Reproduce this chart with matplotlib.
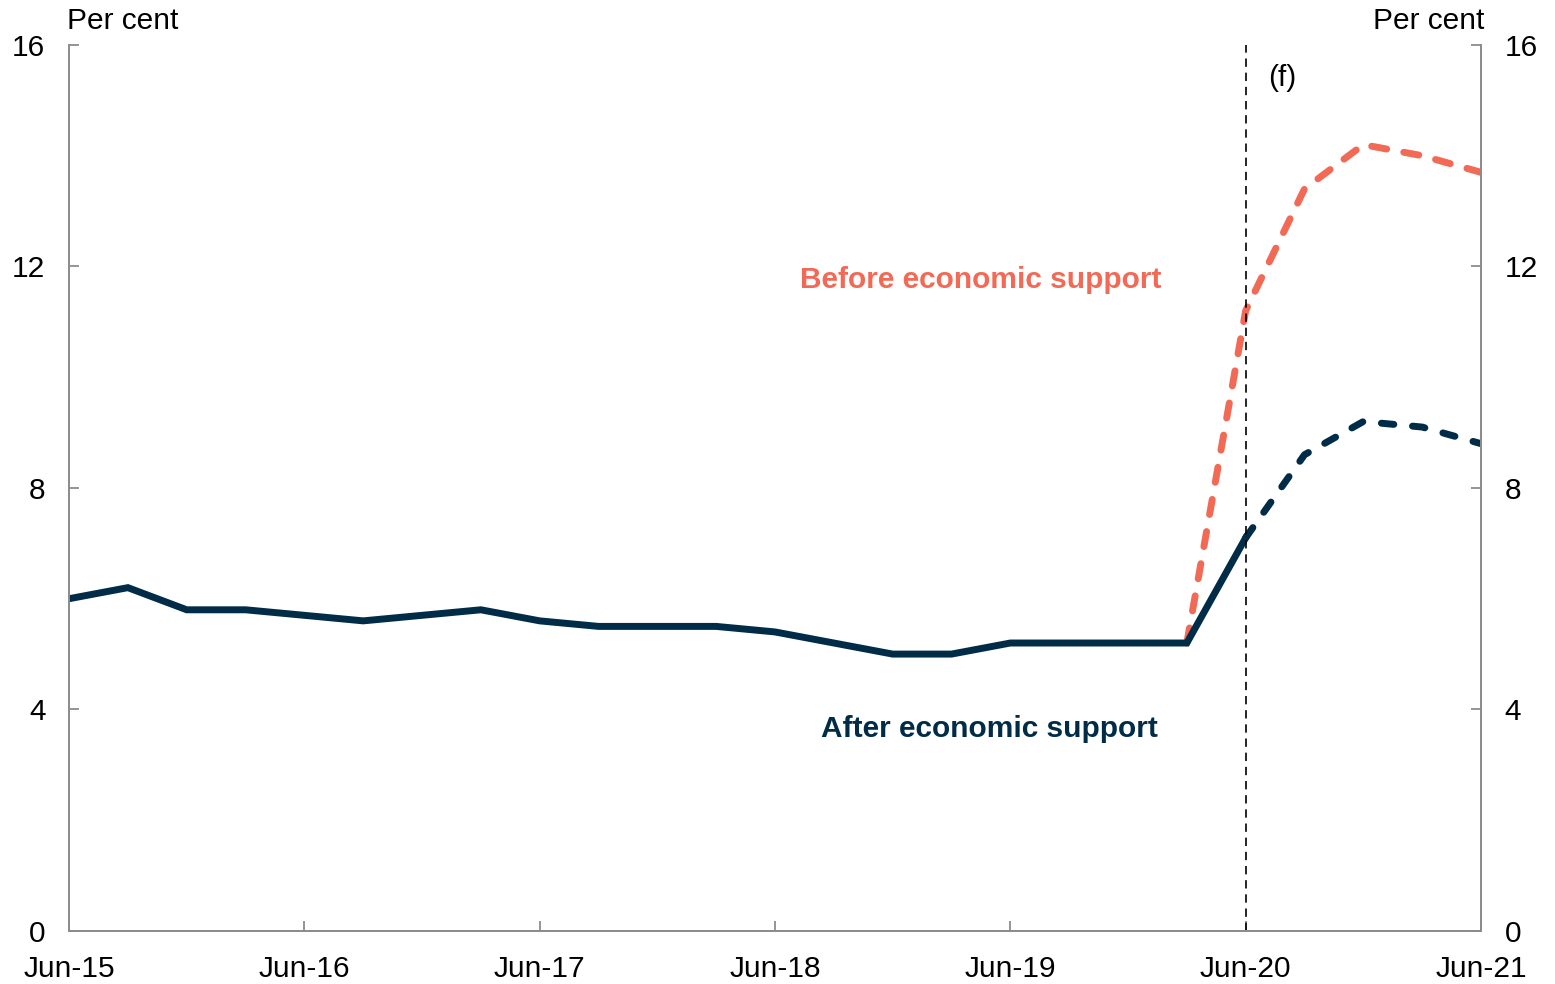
import numpy as np
import matplotlib.pyplot as plt

plt.rcParams['font.family'] = ['Liberation Sans', 'DejaVu Sans']

# Quarterly unemployment rate, Jun-15 to Jun-21 (per cent)
quarters = ['Jun-15', 'Sep-15', 'Dec-15', 'Mar-16', 'Jun-16', 'Sep-16', 'Dec-16',
            'Mar-17', 'Jun-17', 'Sep-17', 'Dec-17', 'Mar-18', 'Jun-18', 'Sep-18',
            'Dec-18', 'Mar-19', 'Jun-19', 'Sep-19', 'Dec-19', 'Mar-20', 'Jun-20',
            'Sep-20', 'Dec-20', 'Mar-21', 'Jun-21']
actual = [6.0, 6.2, 5.8, 5.8, 5.7, 5.6, 5.7, 5.8, 5.6, 5.5, 5.5, 5.5, 5.4, 5.2,
          5.0, 5.0, 5.2, 5.2, 5.2, 5.2, 7.1]
after_support = [7.1, 8.6, 9.2, 9.1, 8.8]          # Jun-20 onwards
before_support = [5.2, 11.2, 13.4, 14.2, 14.0, 13.7]  # Mar-20 onwards
year_labels = ['Jun-15', 'Jun-16', 'Jun-17', 'Jun-18', 'Jun-19', 'Jun-20', 'Jun-21']
forecast_start = 'Jun-20'

navy = '#002c47'
coral = '#f26a55'
grey = '#8c8c8c'
fs = 21.5

x = np.arange(len(quarters))
x_actual = x[:len(actual)]
x_after = x[len(quarters) - len(after_support):]
x_before = x[len(quarters) - len(before_support):]

fig = plt.figure(figsize=(15.55, 9.84), dpi=100)
ax = fig.add_axes([0.0444, 0.0539, 0.908, 0.9004])

ax.plot(x_before, before_support, color=coral, lw=5, ls=(0, (2.2, 2.5)),
        dash_capstyle='round')
ax.plot(x_actual, actual, color=navy, lw=5, solid_joinstyle='miter')
ax.plot(x_after, after_support, color=navy, lw=5, ls=(0, (1.8, 2.7)),
        dash_capstyle='round')

fx = quarters.index(forecast_start)
ax.axvline(fx, color='black', lw=1.2, ls=(0, (5, 3.5)))
ax.text(fx + 0.38, 15.4, '(f)', fontsize=fs, ha='left', va='center')

ax.text(15.5, 11.75, 'Before economic support', color=coral, fontsize=fs,
        fontweight='bold', ha='center', va='center')
ax.text(15.65, 3.65, 'After economic support', color=navy, fontsize=fs,
        fontweight='bold', ha='center', va='center')

ax.set_xlim(0, len(quarters) - 1)
ax.set_ylim(0, 16)
ax.set_yticks([0, 4, 8, 12, 16])
ax.set_xticks([quarters.index(q) for q in year_labels])
ax.set_xticklabels(year_labels)

ax2 = ax.twinx()
ax2.set_ylim(0, 16)
ax2.set_yticks([0, 4, 8, 12, 16])

for a in (ax, ax2):
    a.spines['top'].set_visible(False)
    for s in ('left', 'right', 'bottom'):
        a.spines[s].set_color(grey)
        a.spines[s].set_linewidth(1.3)
    a.tick_params(direction='in', length=7, width=1.3, color=grey,
                  labelsize=fs, pad=14)
ax.tick_params(axis='y', pad=17)
ax2.tick_params(axis='y', pad=17)
ax.tick_params(axis='x', pad=17)

fig.text(0.0431, 0.979, 'Per cent', fontsize=fs, ha='left', va='center')
fig.text(0.9545, 0.979, 'Per cent', fontsize=fs, ha='right', va='center')

fig.savefig('out.png', dpi=100)
